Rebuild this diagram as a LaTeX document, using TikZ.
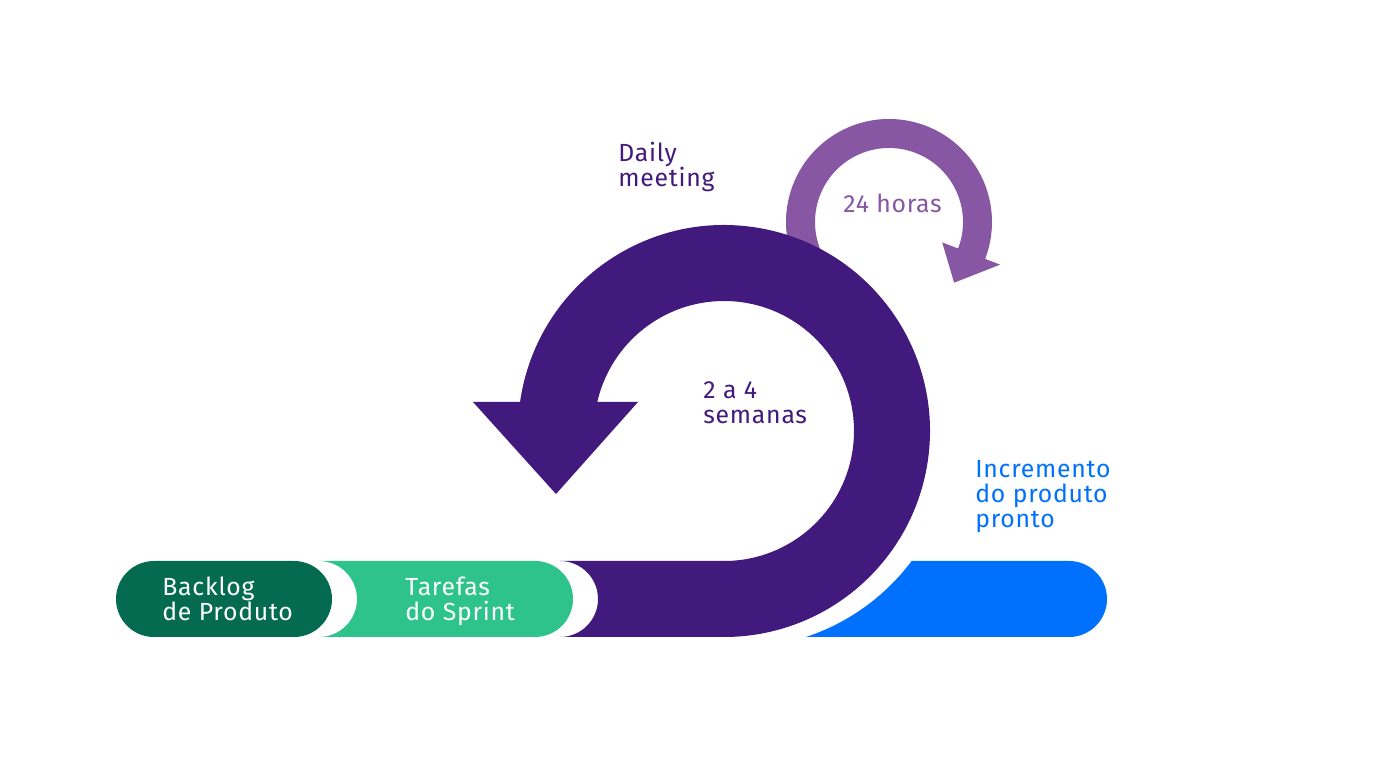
\documentclass[tikz,border=0pt]{standalone}
\usepackage{fontspec}
\setmainfont{Fira Sans}[LetterSpace=3]
\usetikzlibrary{positioning}
\definecolor{darkpurple}{RGB}{66,25,124}
\definecolor{lightpurple}{RGB}{135,87,163}
\definecolor{darkgreen}{RGB}{4,107,80}
\definecolor{mintgreen}{RGB}{46,195,139}
\definecolor{brightblue}{RGB}{0,112,255}
\begin{document}
\begin{tikzpicture}[x=.5pt, y=.5pt,
  txt/.style={anchor=base west, align=left, inner sep=0pt, font=\fontsize{12.4}{12.6}\selectfont}]
  \useasboundingbox (0,0) rectangle (1376,782);

  % small loop (24 horas)
  \fill [lightpurple, shift={(889,560)}] (210:103) arc [start angle=210, end angle=-21, radius=103]
    -- (-21:119) -- (-43:89) -- (-21:57) -- (-21:74) arc [start angle=-21, end angle=210, radius=74] -- cycle;

  % pills
  \fill [darkgreen] (154,221) -- (294,221) arc [start angle=90, end angle=-90, radius=38]
    -- (154,145) arc [start angle=270, end angle=90, radius=38] -- cycle;
  \fill [mintgreen] (319,221) -- (535,221) arc [start angle=90, end angle=-90, radius=38]
    -- (319,145) arc [start angle=-90, end angle=90, radius=38] -- cycle;

  % big loop (sprint)
  \fill [darkpurple] (560,145) arc [start angle=-90, end angle=90, radius=38]
    -- (724,221) arc [start angle=-90, end angle=167.1, radius=130]
    -- (638,380) -- (556,288) -- (473,380)
    -- ([shift={(171.9:206)}]724,351) arc [start angle=171.9, end angle=-90, radius=206] -- cycle;

  % increment bar
  \fill [brightblue] (806,145) arc [start angle=-71.7, end angle=-36.8, radius=217]
    -- (1069,221) arc [start angle=90, end angle=-90, radius=38] -- cycle;

  % labels (base = last line)
  \node (daily) [txt, text=darkpurple] at (618,595.5) {Daily\\meeting};
  \node (hours) [txt, text=lightpurple] at (843,569.5) {24 horas};
  \node (weeks) [txt, text=darkpurple] at (703,358.5) {2 a 4\\semanas};
  \node (increment) [txt, text=brightblue] at (975,254.5) {Incremento\\do produto\\pronto};
  \node (backlog) [txt, text=white] at (162,161) {Backlog\\de Produto};
  \node (tasks) [txt, text=white] at (405,161) {Tarefas\\do Sprint};
\end{tikzpicture}
\end{document}
